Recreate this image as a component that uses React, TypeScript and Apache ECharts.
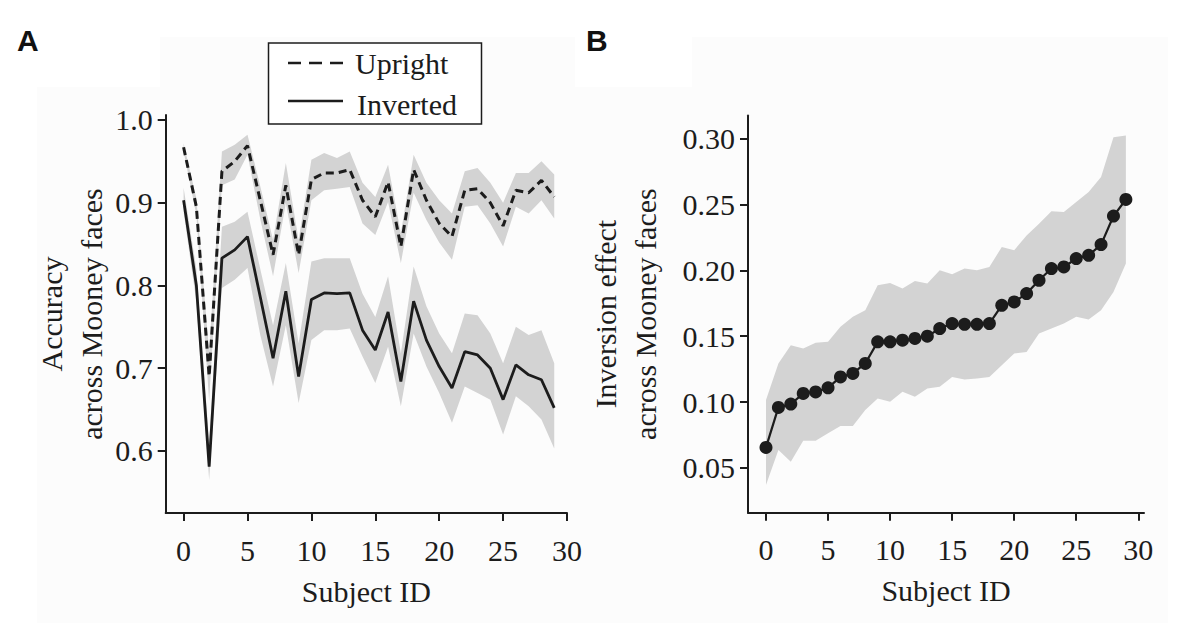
import React, { useEffect, useRef } from "react";
import * as echarts from "echarts";

// ---- data ----
const subjectIds = [0, 1, 2, 3, 4, 5, 6, 7, 8, 9, 10, 11, 12, 13, 14, 15, 16, 17, 18, 19, 20, 21, 22, 23, 24, 25, 26, 27, 28, 29];
const xTickValues = [0, 5, 10, 15, 20, 25, 30];
const yTickValuesA = [0.6, 0.7, 0.8, 0.9, 1.0];
const yTickValuesB = [0.05, 0.1, 0.15, 0.2, 0.25, 0.3];

const uprightMean = [0.967, 0.895, 0.69, 0.938, 0.95, 0.969, 0.903, 0.837, 0.921, 0.837, 0.928, 0.936, 0.936, 0.94, 0.903, 0.883, 0.925, 0.847, 0.94, 0.903, 0.875, 0.859, 0.915, 0.917, 0.9, 0.872, 0.915, 0.912, 0.927, 0.907];
const uprightUpper = [0.972, 0.905, 0.72, 0.962, 0.97, 0.982, 0.92, 0.855, 0.948, 0.855, 0.952, 0.96, 0.954, 0.962, 0.924, 0.907, 0.946, 0.863, 0.958, 0.924, 0.903, 0.887, 0.938, 0.942, 0.924, 0.9, 0.936, 0.936, 0.95, 0.934];
const uprightLower = [0.962, 0.885, 0.66, 0.921, 0.928, 0.958, 0.88, 0.811, 0.9, 0.815, 0.903, 0.915, 0.917, 0.919, 0.875, 0.861, 0.901, 0.827, 0.912, 0.879, 0.852, 0.831, 0.895, 0.897, 0.875, 0.847, 0.895, 0.887, 0.903, 0.881];

const invertedMean = [0.903, 0.8, 0.581, 0.833, 0.843, 0.859, 0.786, 0.712, 0.793, 0.69, 0.783, 0.791, 0.79, 0.791, 0.746, 0.722, 0.768, 0.684, 0.781, 0.734, 0.702, 0.676, 0.72, 0.716, 0.7, 0.662, 0.704, 0.692, 0.686, 0.652];
const invertedUpper = [0.918, 0.82, 0.61, 0.871, 0.877, 0.889, 0.82, 0.752, 0.827, 0.73, 0.829, 0.833, 0.833, 0.833, 0.79, 0.762, 0.811, 0.718, 0.823, 0.775, 0.742, 0.718, 0.766, 0.764, 0.742, 0.706, 0.75, 0.74, 0.746, 0.706];
const invertedLower = [0.889, 0.78, 0.565, 0.797, 0.807, 0.821, 0.74, 0.678, 0.752, 0.658, 0.734, 0.746, 0.746, 0.748, 0.714, 0.682, 0.726, 0.654, 0.742, 0.702, 0.67, 0.634, 0.678, 0.67, 0.662, 0.62, 0.666, 0.654, 0.638, 0.603];

const inversionEffect = [0.0655, 0.0959, 0.0984, 0.1065, 0.1077, 0.1108, 0.1191, 0.1217, 0.1293, 0.1457, 0.1457, 0.147, 0.1483, 0.15, 0.1558, 0.1596, 0.159, 0.159, 0.1596, 0.1735, 0.176, 0.1824, 0.1925, 0.2014, 0.2026, 0.209, 0.2115, 0.2196, 0.2413, 0.2539];
const effectUpper = [0.1015, 0.1293, 0.1432, 0.1407, 0.145, 0.1457, 0.1571, 0.1647, 0.1697, 0.1887, 0.1905, 0.1862, 0.192, 0.19, 0.2001, 0.1971, 0.2014, 0.2001, 0.2026, 0.2178, 0.2153, 0.2266, 0.2355, 0.245, 0.2443, 0.2519, 0.2595, 0.2709, 0.3012, 0.3025];
const effectLower = [0.037, 0.0635, 0.0547, 0.0706, 0.0706, 0.0762, 0.0817, 0.0817, 0.0939, 0.1027, 0.1002, 0.1078, 0.104, 0.1103, 0.1116, 0.1191, 0.1171, 0.1179, 0.1191, 0.128, 0.1369, 0.138, 0.152, 0.1558, 0.1596, 0.1647, 0.1627, 0.1697, 0.1836, 0.2052];

// ---- styles ----
const SERIF = "'Liberation Serif', 'Times New Roman', serif";
const SANS = "'Liberation Sans', Arial, sans-serif";
const INK = "#1c1c1c";
const BAND = "#d3d3d3";
const FAINT = "#fcfcfc";

const pairs = (ys: number[]) => subjectIds.map((x, i) => [x, ys[i]]);

function bandSeries(lo: number[], hi: number[], idx: number) {
  return {
    type: "custom",
    xAxisIndex: idx,
    yAxisIndex: idx,
    z: 1,
    silent: true,
    encode: { x: 0, y: [1, 2] },
    data: subjectIds.map((x, i) => [x, lo[i], hi[i]]),
    renderItem: (params: any, api: any) => {
      if (params.dataIndex !== 0) return null;
      const pts: number[][] = [];
      for (let i = 0; i < subjectIds.length; i++) pts.push(api.coord([subjectIds[i], hi[i]]));
      for (let i = subjectIds.length - 1; i >= 0; i--) pts.push(api.coord([subjectIds[i], lo[i]]));
      return { type: "polygon", shape: { points: pts }, style: { fill: BAND } };
    },
  };
}

function makeXAxis(idx: number, min: number, max: number) {
  return {
    type: "value",
    gridIndex: idx,
    min,
    max,
    axisLine: { show: true, onZero: false, lineStyle: { color: INK, width: 2 } },
    axisTick: { show: true, length: 8, customValues: xTickValues, lineStyle: { color: INK, width: 2 } },
    axisLabel: { customValues: xTickValues, fontSize: 30, fontFamily: SERIF, color: INK, margin: 22 },
    splitLine: { show: false },
    name: "Subject ID",
    nameLocation: "middle",
    nameGap: 61,
    nameTextStyle: { fontSize: 30, fontFamily: SERIF, color: INK, lineHeight: 34 },
  };
}

function makeYAxis(idx: number, min: number, max: number, ticks: number[], digits: number, name: string, nameGap: number) {
  return {
    type: "value",
    gridIndex: idx,
    min,
    max,
    axisLine: { show: true, onZero: false, lineStyle: { color: INK, width: 2 } },
    axisTick: { show: true, length: 8, customValues: ticks, lineStyle: { color: INK, width: 2 } },
    axisLabel: {
      customValues: ticks,
      fontSize: 30,
      fontFamily: SERIF,
      color: INK,
      margin: 13,
      formatter: (v: number) => v.toFixed(digits),
    },
    splitLine: { show: false },
    name,
    nameLocation: "middle",
    nameRotate: 90,
    nameGap,
    nameTextStyle: { fontSize: 30, fontFamily: SERIF, color: INK, lineHeight: 40 },
  };
}

export default function App() {
  const ref = useRef<HTMLDivElement>(null);

  useEffect(() => {
    document.body.style.margin = "0";
    if (!ref.current) return;
    const chart = echarts.init(ref.current, null, { renderer: "svg" });

    const option: any = {
      animation: false,
      backgroundColor: "#ffffff",
      grid: [
        { left: 165.7, top: 115, width: 401.3, height: 398 },
        { left: 748, top: 115.5, width: 396, height: 397.2 },
      ],
      xAxis: [makeXAxis(0, -1.4, 30), makeXAxis(1, -1.45, 30.46)],
      yAxis: [
        makeYAxis(0, 0.525, 1.006, yTickValuesA, 1, "Accuracy\nacross Mooney faces", 49),
        makeYAxis(1, 0.0159, 0.3177, yTickValuesB, 2, "Inversion effect\nacross Mooney faces", 83),
      ],
      graphic: [
        { type: "rect", z: -10, silent: true, shape: { x: 37, y: 87, width: 538, height: 536 }, style: { fill: FAINT } },
        { type: "rect", z: -10, silent: true, shape: { x: 160, y: 37, width: 415, height: 50 }, style: { fill: FAINT } },
        { type: "rect", z: -10, silent: true, shape: { x: 575, y: 87, width: 593, height: 536 }, style: { fill: FAINT } },
        { type: "rect", z: -10, silent: true, shape: { x: 692, y: 37, width: 476, height: 50 }, style: { fill: FAINT } },
        { type: "text", x: 17, y: 25, style: { text: "A", font: `bold 30px ${SANS}`, fill: "#111", textVerticalAlign: "top" } },
        { type: "text", x: 586, y: 25, style: { text: "B", font: `bold 30px ${SANS}`, fill: "#111", textVerticalAlign: "top" } },
        {
          type: "rect",
          z: 10,
          shape: { x: 268.5, y: 43, width: 213, height: 81 },
          style: { fill: "#ffffff", stroke: INK, lineWidth: 1.5 },
        },
        {
          type: "line",
          z: 11,
          shape: { x1: 288, y1: 63, x2: 343, y2: 63 },
          style: { stroke: INK, lineWidth: 2.5, lineDash: [13, 8] },
        },
        {
          type: "line",
          z: 11,
          shape: { x1: 288, y1: 101, x2: 343, y2: 101 },
          style: { stroke: INK, lineWidth: 2.5 },
        },
        {
          type: "text",
          z: 11,
          x: 355,
          y: 63,
          style: { text: "Upright", font: `30px ${SERIF}`, fill: INK, textVerticalAlign: "middle" },
        },
        {
          type: "text",
          z: 11,
          x: 357,
          y: 104,
          style: { text: "Inverted", font: `30px ${SERIF}`, fill: INK, textVerticalAlign: "middle" },
        },
      ],
      series: [
        bandSeries(uprightLower, uprightUpper, 0),
        bandSeries(invertedLower, invertedUpper, 0),
        {
          name: "Upright",
          type: "line",
          xAxisIndex: 0,
          yAxisIndex: 0,
          z: 3,
          data: pairs(uprightMean),
          showSymbol: false,
          symbol: "none",
          lineStyle: { color: INK, width: 3, type: [8, 5] },
        },
        {
          name: "Inverted",
          type: "line",
          xAxisIndex: 0,
          yAxisIndex: 0,
          z: 3,
          data: pairs(invertedMean),
          showSymbol: false,
          symbol: "none",
          lineStyle: { color: INK, width: 2.8 },
        },
        bandSeries(effectLower, effectUpper, 1),
        {
          name: "Inversion effect",
          type: "line",
          xAxisIndex: 1,
          yAxisIndex: 1,
          z: 3,
          data: pairs(inversionEffect),
          symbol: "circle",
          symbolSize: 13,
          itemStyle: { color: INK },
          lineStyle: { color: INK, width: 2.2 },
        },
      ],
    };

    chart.setOption(option);
    return () => chart.dispose();
  }, []);

  return <div ref={ref} style={{ width: 1183, height: 629 }} />;
}
